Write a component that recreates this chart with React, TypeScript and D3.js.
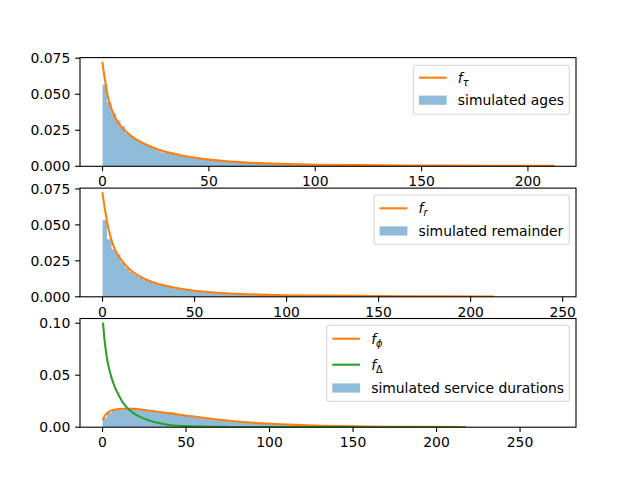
import React from "react";
import * as d3 from "d3";

// ---------- data ----------
// Panel 1: ages
const ageBinCount = 100;
const ageRangeMax = 212;
const ageHist = [
  0.0567, 0.0445, 0.0368, 0.0318, 0.0278, 0.0228, 0.0210, 0.0190, 0.0168, 0.0155,
  0.0140, 0.0126, 0.0110, 0.0095, 0.0099, 0.0098, 0.0090, 0.0074, 0.0069, 0.0064,
  0.0059, 0.0054, 0.0050, 0.0046, 0.0043, 0.0040, 0.0037, 0.0034, 0.0032, 0.0030,
  0.0028, 0.0026, 0.0024, 0.0023, 0.0021, 0.0020, 0.0019, 0.0018, 0.0017, 0.0016,
  0.0015, 0.0014, 0.0013, 0.0013, 0.0012, 0.0011, 0.0011, 0.0010, 0.0010, 0.0009,
  0.0009, 0.0008, 0.0008, 0.0007, 0.0007, 0.0007, 0.0006, 0.0006, 0.0006, 0.0005,
  0.0005, 0.0005, 0.0004, 0.0004, 0.0004, 0.0004, 0.0003, 0.0003, 0.0003, 0.0003,
  0.0003, 0.0002, 0.0002, 0.0002, 0.0002, 0.0002, 0.0002, 0.0002, 0.0001, 0.0001,
];
const tauX = [0, 0.8, 1.6, 2.3, 3.9, 5.5, 7.0, 9.4, 11.7, 14.0, 16.4, 21.1, 25.8, 30.4, 35.1, 39.8, 44.5, 49.2, 54.8, 64.2, 73.5, 87.6, 101.6, 120, 140, 160, 185, 212];
const tauY = [0.0718, 0.0628, 0.0560, 0.0496, 0.0410, 0.0352, 0.0310, 0.0266, 0.0232, 0.0204, 0.0181, 0.0146, 0.0118, 0.0097, 0.0081, 0.0068, 0.0057, 0.0048, 0.0040, 0.0029, 0.0022, 0.0015, 0.0011, 0.0008, 0.0006, 0.00045, 0.00035, 0.00028];
const ageXTicks = [0, 50, 100, 150, 200];

// Panel 2: remainder
const remBinCount = 100;
const remRangeMax = 245;
const remHist = [
  0.0535, 0.0400, 0.0330, 0.0296, 0.0238, 0.0200, 0.0172, 0.0150, 0.0133, 0.0118,
  0.0106, 0.0095, 0.0085, 0.0081, 0.0080, 0.0068, 0.0059, 0.0053, 0.0049, 0.0043,
  0.0040, 0.0038, 0.0034, 0.0032, 0.0029, 0.0027, 0.0025, 0.0023, 0.0021, 0.0020,
  0.0018, 0.0017, 0.0016, 0.0015, 0.0014, 0.0013, 0.0012, 0.0012, 0.0011, 0.0010,
  0.0010, 0.0009, 0.0009, 0.0008, 0.0008, 0.0007, 0.0007, 0.0006, 0.0006, 0.0006,
  0.0005, 0.0005, 0.0005, 0.0004, 0.0004, 0.0004, 0.0003, 0.0003, 0.0003, 0.0003,
  0.0002, 0.0002, 0.0002, 0.0002, 0.0002, 0.0001, 0.0001, 0.0001, 0.0001, 0.0001,
];
const rX = [0, 0.9, 1.8, 2.7, 4.5, 6.3, 8.2, 10.9, 13.6, 16.3, 19.0, 24.5, 29.9, 35.3, 40.8, 46.2, 51.6, 57.1, 62.5, 69, 85, 100, 118, 150, 180, 212];
const rY = [0.0720, 0.0639, 0.0570, 0.0505, 0.0410, 0.0342, 0.0292, 0.0244, 0.0205, 0.0174, 0.0150, 0.0115, 0.0091, 0.0074, 0.0060, 0.0049, 0.0040, 0.0033, 0.0028, 0.0023, 0.0015, 0.0011, 0.0008, 0.0005, 0.00035, 0.00025];
const remXTicks = [0, 50, 100, 150, 200, 250];

// Panel 3: service durations
const svcBinCount = 100;
const svcRangeMax = 270;
const svcHist = [
  0.0092, 0.0140, 0.0158, 0.0168, 0.0172, 0.0174, 0.0175, 0.0171, 0.0167, 0.0160,
  0.0155, 0.0148, 0.0142, 0.0137, 0.0132, 0.0143, 0.0122, 0.0116, 0.0108, 0.0102,
  0.0096, 0.0090, 0.0085, 0.0080, 0.0075, 0.0070, 0.0065, 0.0061, 0.0057, 0.0053,
  0.0049, 0.0046, 0.0043, 0.0039, 0.0036, 0.0033, 0.0031, 0.0028, 0.0026, 0.0024,
  0.0022, 0.0020, 0.0018, 0.0017, 0.0015, 0.0014, 0.0013, 0.0012, 0.0011, 0.0010,
  0.0009, 0.0008, 0.0007, 0.0007, 0.0006, 0.0005, 0.0005, 0.0004, 0.0004, 0.0003,
  0.0003, 0.0003, 0.0002, 0.0002, 0.0002, 0.0002, 0.0001, 0.0001, 0.0001, 0.0001,
];
const phiX = [0.3, 1.2, 2.2, 3.5, 5.2, 7.5, 10.2, 13, 16.2, 19, 22.2, 25, 28.2, 34.2, 40.2, 46.2, 52.2, 58, 64.2, 70, 76.2, 82.2, 90, 100, 115, 130, 150, 170, 190, 214];
const phiY = [0.0078, 0.0105, 0.0127, 0.0145, 0.0159, 0.0169, 0.0175, 0.0178, 0.0178, 0.0176, 0.0172, 0.0166, 0.0159, 0.0146, 0.0133, 0.0120, 0.0107, 0.0095, 0.0083, 0.0072, 0.0062, 0.0053, 0.0043, 0.0033, 0.0022, 0.0014, 0.0008, 0.0005, 0.0003, 0.0002];
const deltaX = [0.3, 1.2, 2.2, 3.2, 4.2, 5.2, 6.2, 7.2, 8.7, 10.2, 11.7, 13.2, 16.2, 19.2, 22.2, 25.2, 28.2, 34.2, 40.2, 46, 52.2, 62, 72, 82, 100, 130, 160, 190, 217];
const deltaY = [0.0995, 0.0838, 0.0710, 0.0614, 0.0545, 0.0486, 0.0435, 0.0392, 0.0338, 0.0293, 0.0250, 0.0215, 0.0165, 0.0128, 0.0101, 0.0080, 0.0063, 0.0038, 0.0022, 0.0014, 0.0009, 0.0005, 0.0003, 0.0002, 0.0001, 0.00005, 0.00003, 0.00002, 0.00001];
const svcXTicks = [0, 50, 100, 150, 200, 250];

const yTicksSmall = [0, 0.025, 0.05, 0.075];
const yTicksLarge = [0, 0.05, 0.1];

// ---------- styles ----------
const ORANGE = "#ff7f0e";
const GREEN = "#2ca02c";
const BLUE = "#1f77b4";
const FONT = "DejaVu Sans, sans-serif";
const FS = 13.9;
const AX_LEFT = 80;
const AX_RIGHT = 576;
const AX_H = 108.7;
const TICK = 4.86;

type Curve = { xs: number[]; ys: number[]; color: string };
type LegendItem = { kind: "line" | "patch"; color?: string; label: React.ReactNode };

function MathLabel({ sub, italicSub = true }: { sub: string; italicSub?: boolean }) {
  return (
    <>
      <tspan fontStyle="italic">f</tspan>
      <tspan fontSize={FS * 0.7} dy={3.2} fontStyle={italicSub ? "italic" : "normal"}>
        {sub}
      </tspan>
    </>
  );
}

function Panel(props: {
  top: number;
  hist: number[];
  binCount: number;
  rangeMax: number;
  curves: Curve[];
  yMax: number;
  yTicks: number[];
  yFmt: string;
  xTicks: number[];
  legend: { left: number; top: number; w: number; h: number; rows: number[]; items: LegendItem[] };
}) {
  const { top, hist, binCount, rangeMax, curves, yMax, yTicks, yFmt, xTicks, legend } = props;
  const bottom = top + AX_H;
  const pad = rangeMax * 0.05;
  const x = d3.scaleLinear().domain([-pad, rangeMax + pad]).range([AX_LEFT, AX_RIGHT]);
  const y = d3.scaleLinear().domain([0, yMax]).range([bottom, top]);
  const bw = rangeMax / binCount;
  const pts: [number, number][] = hist.map((v, i) => [i * bw, v]);
  pts.push([hist.length * bw, hist[hist.length - 1]]);
  const area = d3
    .area<[number, number]>()
    .x((d) => x(d[0]))
    .y0(y(0))
    .y1((d) => y(d[1]))
    .curve(d3.curveStepAfter);
  const line = d3
    .line<[number, number]>()
    .x((d) => x(d[0]))
    .y((d) => y(d[1]))
    .curve(d3.curveMonotoneX);
  const fmt = d3.format(yFmt);
  const clipId = `clip${Math.round(top)}`;
  return (
    <g>
      <defs>
        <clipPath id={clipId}>
          <rect x={AX_LEFT} y={top} width={AX_RIGHT - AX_LEFT} height={AX_H} />
        </clipPath>
      </defs>
      <g clipPath={`url(#${clipId})`}>
        <path d={area(pts) || ""} fill={BLUE} fillOpacity={0.5} />
        {curves.map((c, i) => (
          <path
            key={i}
            d={line(c.xs.map((xv, j) => [xv, c.ys[j]] as [number, number])) || ""}
            fill="none"
            stroke={c.color}
            strokeWidth={2.08}
            strokeLinejoin="round"
            strokeLinecap="square"
          />
        ))}
      </g>
      <rect x={AX_LEFT} y={top} width={AX_RIGHT - AX_LEFT} height={AX_H} fill="none" stroke="#000" strokeWidth={1.1} />
      {xTicks.map((t) => (
        <g key={t}>
          <line x1={x(t)} x2={x(t)} y1={bottom} y2={bottom + TICK} stroke="#000" strokeWidth={1.1} />
          <text x={x(t)} y={bottom + TICK + 4.86 + 10.1} textAnchor="middle" fontSize={FS} fontFamily={FONT} fill="#000">
            {t}
          </text>
        </g>
      ))}
      {yTicks.map((t) => (
        <g key={t}>
          <line x1={AX_LEFT - TICK} x2={AX_LEFT} y1={y(t)} y2={y(t)} stroke="#000" strokeWidth={1.1} />
          <text x={AX_LEFT - TICK - 4.86} y={y(t) + 5.05} textAnchor="end" fontSize={FS} fontFamily={FONT} fill="#000">
            {fmt(t)}
          </text>
        </g>
      ))}
      <g>
        <rect
          x={legend.left}
          y={legend.top}
          width={legend.w}
          height={legend.h}
          rx={2.8}
          ry={2.8}
          fill="#fff"
          fillOpacity={0.8}
          stroke="#cccccc"
          strokeOpacity={0.8}
          strokeWidth={1.1}
        />
        {legend.items.map((it, i) => {
          const cy = legend.top + legend.rows[i];
          const hx = legend.left + 5.6;
          return (
            <g key={i}>
              {it.kind === "line" ? (
                <line x1={hx} x2={hx + 27.8} y1={cy} y2={cy} stroke={it.color} strokeWidth={2.08} />
              ) : (
                <rect x={hx} y={cy - 4.6} width={27.8} height={9.2} fill={BLUE} fillOpacity={0.5} />
              )}
              <text x={hx + 27.8 + 11.1} y={cy + 4.8} fontSize={FS} fontFamily={FONT} fill="#000">
                {it.label}
              </text>
            </g>
          );
        })}
      </g>
    </g>
  );
}

export default function App() {
  return (
    <svg
      width={640}
      height={480}
      viewBox="0 0 640 480"
      style={{ position: "absolute", left: 0, top: 0, background: "#fff" }}
    >
      <rect width={640} height={480} fill="#fff" />
      <Panel
        top={57.6}
        hist={ageHist}
        binCount={ageBinCount}
        rangeMax={ageRangeMax}
        curves={[{ xs: tauX, ys: tauY, color: ORANGE }]}
        yMax={0.0754}
        yTicks={yTicksSmall}
        yFmt=".3f"
        xTicks={ageXTicks}
        legend={{
          left: 413.3,
          top: 65.3,
          w: 156,
          h: 49,
          rows: [12.4, 34.9],
          items: [
            { kind: "line", color: ORANGE, label: <MathLabel sub="τ" /> },
            { kind: "patch", label: "simulated ages" },
          ],
        }}
      />
      <Panel
        top={188.1}
        hist={remHist}
        binCount={remBinCount}
        rangeMax={remRangeMax}
        curves={[{ xs: rX, ys: rY, color: ORANGE }]}
        yMax={0.0756}
        yTicks={yTicksSmall}
        yFmt=".3f"
        xTicks={remXTicks}
        legend={{
          left: 374,
          top: 195,
          w: 195.3,
          h: 49.3,
          rows: [13.3, 36],
          items: [
            { kind: "line", color: ORANGE, label: <MathLabel sub="r" /> },
            { kind: "patch", label: "simulated remainder" },
          ],
        }}
      />
      <Panel
        top={318.5}
        hist={svcHist}
        binCount={svcBinCount}
        rangeMax={svcRangeMax}
        curves={[
          { xs: phiX, ys: phiY, color: ORANGE },
          { xs: deltaX, ys: deltaY, color: GREEN },
        ]}
        yMax={0.1045}
        yTicks={yTicksLarge}
        yFmt=".2f"
        xTicks={svcXTicks}
        legend={{
          left: 326.7,
          top: 325.3,
          w: 242.6,
          h: 76,
          rows: [13.4, 39.4, 62.7],
          items: [
            { kind: "line", color: ORANGE, label: <MathLabel sub="ϕ" /> },
            { kind: "line", color: GREEN, label: <MathLabel sub="Δ" italicSub={false} /> },
            { kind: "patch", label: "simulated service durations" },
          ],
        }}
      />
    </svg>
  );
}
